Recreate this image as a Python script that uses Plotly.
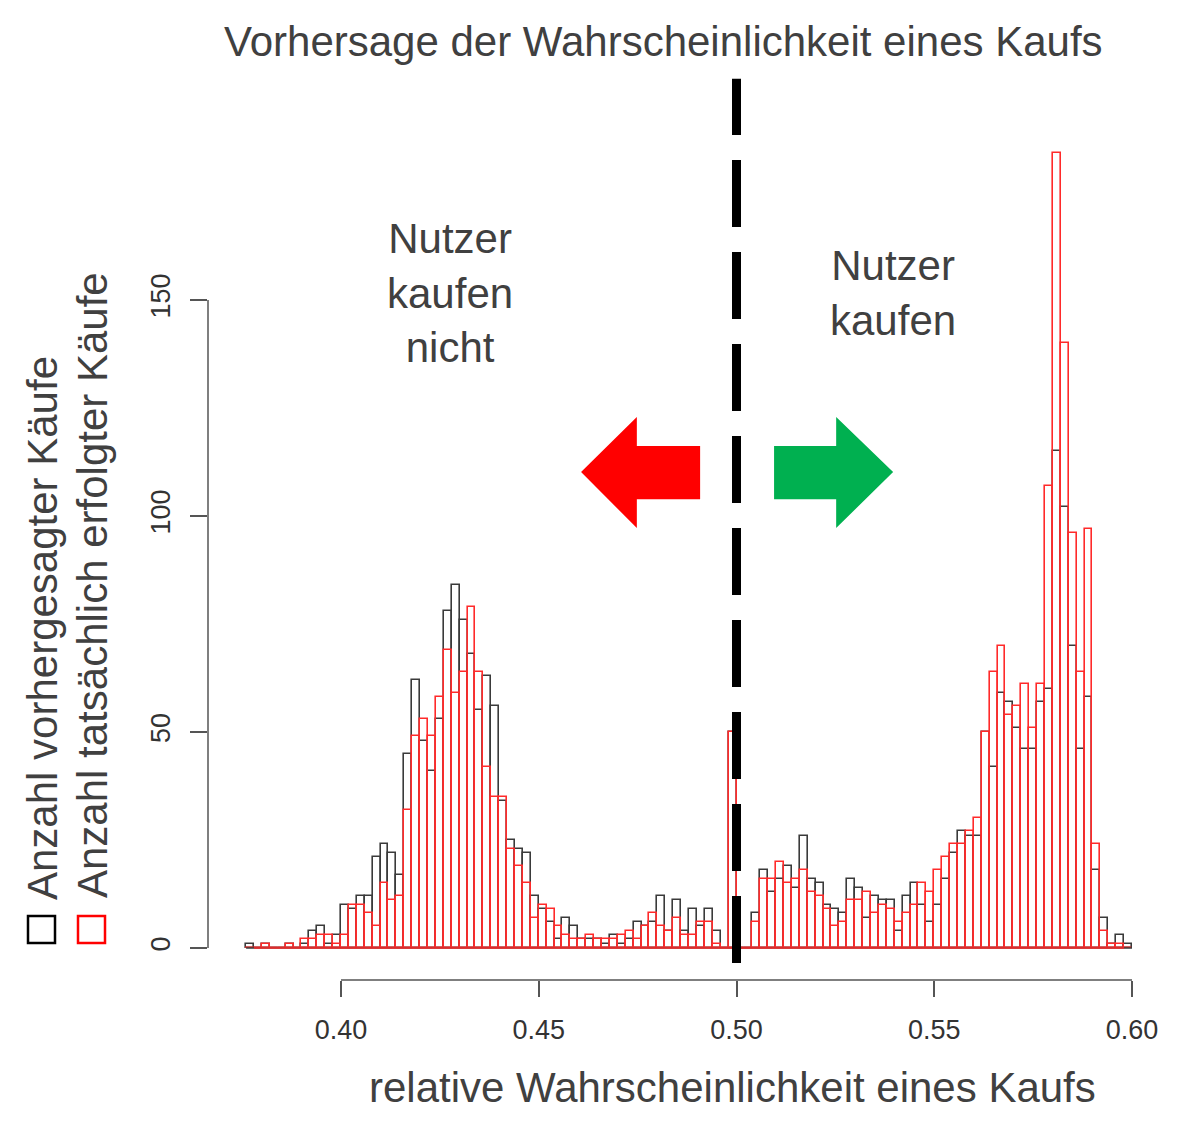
import plotly.graph_objects as go

# histogram bins: 0.376 .. 0.600, width 0.002
bin_start = 0.376
bin_width = 0.002

# predicted purchases (black outline)
black_counts = [1, 0, 1, 0, 0, 1, 0, 1, 4, 5,
                1, 3, 10, 9, 12, 12, 21, 24, 22, 17,
                45, 62, 48, 41, 53, 78, 84, 76, 68, 55,
                63, 56, 34, 25, 23, 22, 12, 9, 6, 2,
                7, 5, 2, 2, 2, 1, 3, 1, 2, 6,
                5, 6, 12, 4, 11, 4, 9, 5, 9, 4,
                0, 50, 0, 0, 8, 18, 13, 16, 19, 14,
                26, 16, 15, 10, 9, 8, 16, 14, 7, 12,
                11, 11, 4, 12, 15, 10, 6, 10, 16, 22,
                27, 26, 26, 50, 42, 59, 57, 51, 46, 46,
                57, 60, 115, 102, 70, 46, 58, 18, 7, 1,
                3, 1]

# actual purchases (red outline)
red_counts = [0, 0, 1, 0, 0, 1, 0, 2, 2, 3,
              3, 1, 3, 10, 10, 8, 5, 15, 11, 12,
              32, 49, 53, 49, 58, 69, 59, 64, 79, 64,
              42, 35, 35, 23, 19, 15, 7, 10, 9, 5,
              3, 2, 2, 3, 2, 2, 2, 3, 4, 2,
              5, 8, 5, 4, 7, 3, 3, 6, 6, 1,
              0, 50, 0, 0, 6, 16, 16, 20, 15, 16,
              18, 13, 12, 9, 5, 6, 11, 11, 13, 8,
              10, 9, 6, 8, 10, 15, 13, 18, 21, 24,
              24, 27, 30, 50, 64, 70, 54, 56, 61, 51,
              61, 107, 184, 140, 96, 64, 97, 24, 4, 1,
              1, 0]

black_breaks = [0.376, 0.600]
red_breaks = [0.378, 0.598]

x_ticks = [0.40, 0.45, 0.50, 0.55, 0.60]
x_ticktext = ["0.40", "0.45", "0.50", "0.55", "0.60"]
y_ticks = [0, 50, 100, 150]
threshold = 0.5

centers = [bin_start + bin_width * (i + 0.5) for i in range(len(black_counts))]

# page body has an 8px margin, so the figure is made 8px smaller
OFF = 8
W, H = 1200 - OFF, 1134 - OFF
L, R, T, B = 208 - OFF, 33, 121 - OFF, 154
X_RANGE = [0.36637, 0.60885]
Y_RANGE = [-7.41, 191.43]

TXT = "#404040"
AX = "#555555"
FONT = "Liberation Sans, Arial, sans-serif"


def px_x(p):
    # screen pixel -> paper x
    return (p - OFF - L) / (W - L - R)


def px_y(p):
    # screen pixel -> paper y
    return (H - B - (p - OFF)) / (H - T - B)


def data_y_to_paper(v):
    return (v - Y_RANGE[0]) / (Y_RANGE[1] - Y_RANGE[0])


fig = go.Figure()

fig.add_trace(go.Bar(x=centers, y=black_counts, width=bin_width,
                     marker=dict(color="rgba(0,0,0,0)",
                                 line=dict(color="#3a3a3a", width=1.6)),
                     hoverinfo="x+y"))
fig.add_trace(go.Scatter(x=black_breaks, y=[0, 0], mode="lines",
                         line=dict(color="#3a3a3a", width=1.6), hoverinfo="skip"))
fig.add_trace(go.Bar(x=centers, y=red_counts, width=bin_width,
                     marker=dict(color="rgba(0,0,0,0)",
                                 line=dict(color="#ff2a2a", width=1.6)),
                     hoverinfo="x+y"))
fig.add_trace(go.Scatter(x=red_breaks, y=[0, 0], mode="lines",
                         line=dict(color="#ff2a2a", width=1.6), hoverinfo="skip"))

shapes = []
# R-style axis lines (only between first and last tick)
shapes.append(dict(type="line", xref="x", yref="paper", x0=x_ticks[0], x1=x_ticks[-1],
                   y0=0, y1=0, line=dict(color=AX, width=1.5)))
shapes.append(dict(type="line", xref="paper", yref="y", x0=0, x1=0,
                   y0=y_ticks[0], y1=y_ticks[-1], line=dict(color=AX, width=1.5)))

# dashed decision line at 0.5
xp = (threshold - X_RANGE[0]) / (X_RANGE[1] - X_RANGE[0])
shapes.append(dict(type="line", xref="paper", yref="paper", x0=xp, x1=xp,
                   y0=data_y_to_paper(-3.5), y1=data_y_to_paper(201.2),
                   line=dict(color="black", width=9, dash="67px,25px")))

# arrows
shapes.append(dict(type="path", xref="x", yref="y",
                   path="M 0.4607,110.2 L 0.4748,122.9 L 0.4748,116.2 L 0.4908,116.2 "
                        "L 0.4908,103.9 L 0.4748,103.9 L 0.4748,97.2 Z",
                   fillcolor="#ff0000", line=dict(width=0)))
shapes.append(dict(type="path", xref="x", yref="y",
                   path="M 0.5396,110.2 L 0.5252,122.9 L 0.5252,116.2 L 0.5095,116.2 "
                        "L 0.5095,103.9 L 0.5252,103.9 L 0.5252,97.2 Z",
                   fillcolor="#00b050", line=dict(width=0)))

# legend squares next to the y titles
shapes.append(dict(type="rect", xref="paper", yref="paper",
                   x0=px_x(28), x1=px_x(55), y0=px_y(943), y1=px_y(916),
                   line=dict(color="black", width=2.5)))
shapes.append(dict(type="rect", xref="paper", yref="paper",
                   x0=px_x(78), x1=px_x(105), y0=px_y(943), y1=px_y(916),
                   line=dict(color="#ff0000", width=2.5)))

annotations = [
    dict(text="Vorhersage der Wahrscheinlichkeit eines Kaufs", x=px_x(663), y=px_y(42),
         font=dict(size=42, color=TXT)),
    dict(text="relative Wahrscheinlichkeit eines Kaufs", x=px_x(732), y=px_y(1087),
         font=dict(size=42, color=TXT)),
    dict(text="Anzahl vorhergesagter Käufe", x=px_x(42), y=px_y(628), textangle=-90,
         font=dict(size=42, color=TXT)),
    dict(text="Anzahl tatsächlich erfolgter Käufe", x=px_x(92), y=px_y(585), textangle=-90,
         font=dict(size=42, color=TXT)),
    dict(text="Nutzer<br>kaufen<br>nicht", x=px_x(450), y=px_y(293),
         font=dict(size=42, color=TXT)),
    dict(text="Nutzer<br>kaufen", x=px_x(893), y=px_y(293),
         font=dict(size=42, color=TXT)),
]
for a in annotations:
    a.update(xref="paper", yref="paper", showarrow=False, xanchor="center", yanchor="middle")

fig.update_layout(
    width=W, height=H,
    margin=dict(l=L, r=R, t=T, b=B),
    paper_bgcolor="white", plot_bgcolor="white",
    barmode="overlay", bargap=0,
    showlegend=False,
    font=dict(family=FONT, color=TXT),
    shapes=shapes,
    annotations=annotations,
)
fig.update_xaxes(range=X_RANGE, tickvals=x_ticks, ticktext=x_ticktext,
                 ticks="outside", ticklen=16, tickwidth=1.5, tickcolor=AX,
                 showline=False, showgrid=False, zeroline=False,
                 tickfont=dict(size=27, color="#333333"), ticklabelstandoff=10)
fig.update_yaxes(range=Y_RANGE, tickvals=y_ticks,
                 ticks="outside", ticklen=17, tickwidth=1.5, tickcolor=AX,
                 showline=False, showgrid=False, zeroline=False, tickangle=-90,
                 tickfont=dict(size=27, color="#333333"), ticklabelstandoff=9)

fig.write_html("out.html")
